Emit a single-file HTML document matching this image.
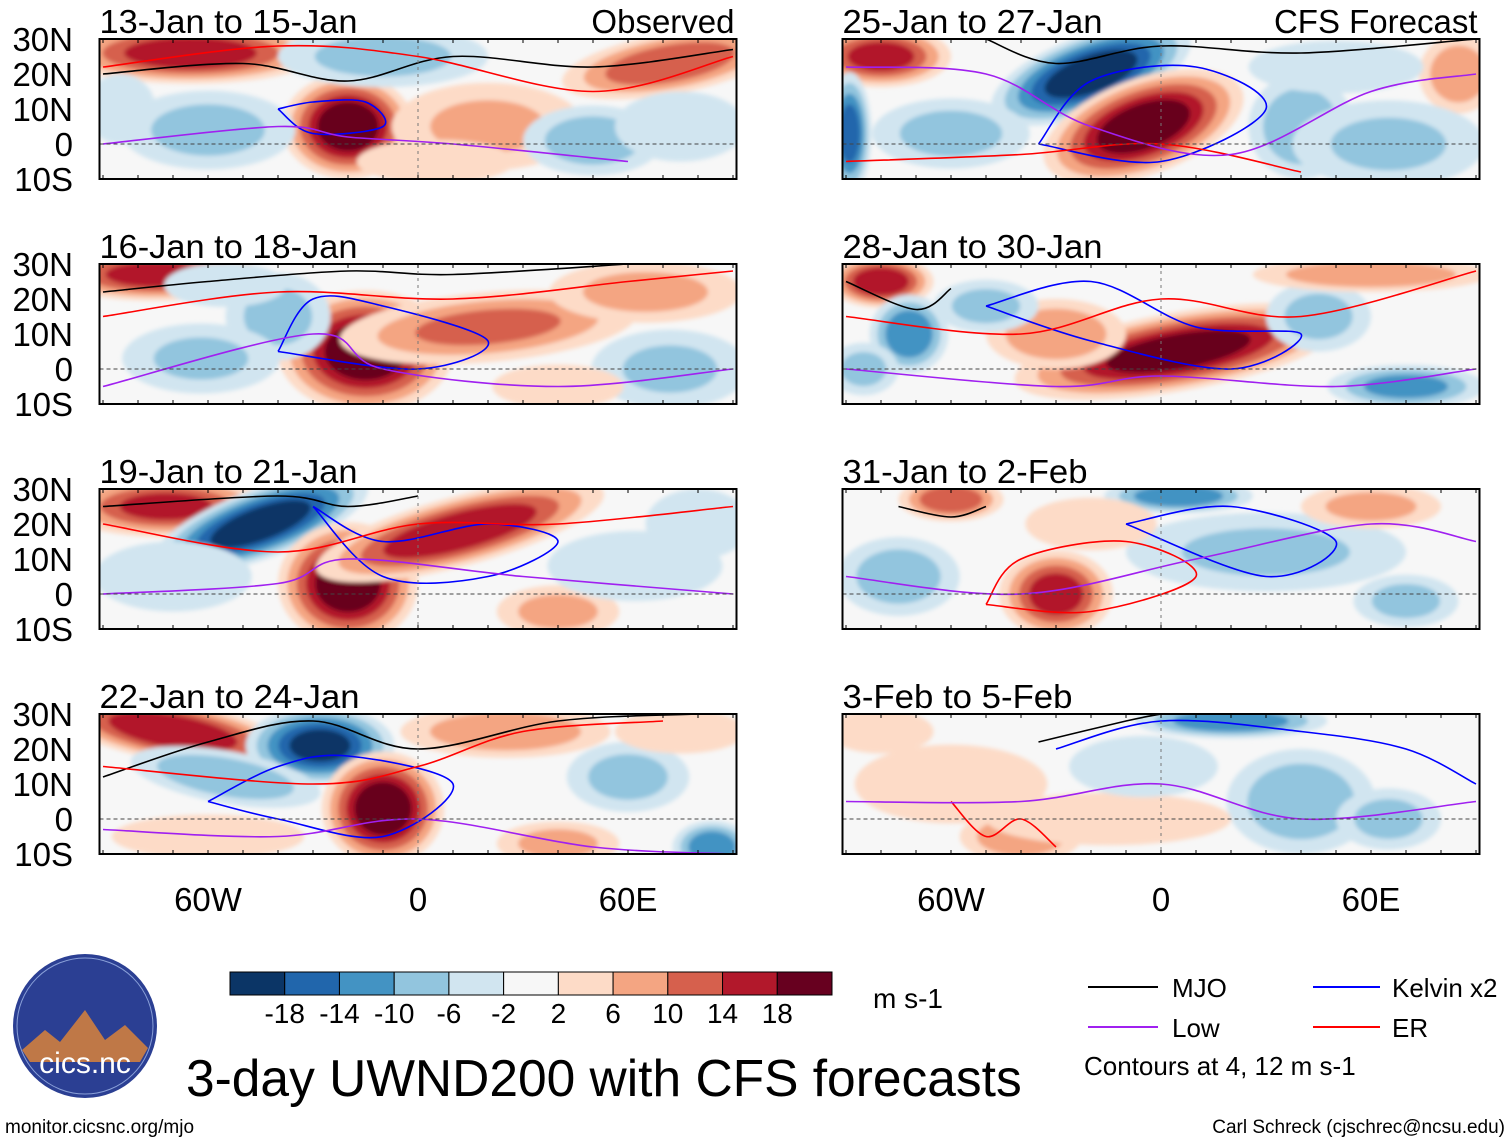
<!DOCTYPE html>
<html><head><meta charset="utf-8"><style>
body{margin:0;background:#fff;font-family:"Liberation Sans",sans-serif;}
svg text{font-family:"Liberation Sans",sans-serif;}
</style></head><body>
<svg id="chart" width="1510" height="1142" viewBox="0 0 1510 1142" xmlns="http://www.w3.org/2000/svg">
<defs><filter id="bl" x="-10%" y="-10%" width="120%" height="120%"><feGaussianBlur stdDeviation="2"/></filter></defs>
<g id="panels"></g>
<g id="cbar"></g>
<text x="873" y="1008" font-size="28">m s-1</text>
<g font-size="26">
<line x1="1088" y1="987" x2="1158" y2="987" stroke="#000" stroke-width="2"/><text x="1172" y="997">MJO</text>
<line x1="1313" y1="987" x2="1380" y2="987" stroke="#00f" stroke-width="2"/><text x="1392" y="997">Kelvin x2</text>
<line x1="1088" y1="1027" x2="1158" y2="1027" stroke="#a020f0" stroke-width="2"/><text x="1172" y="1037">Low</text>
<line x1="1313" y1="1027" x2="1380" y2="1027" stroke="#f00" stroke-width="2"/><text x="1392" y="1037">ER</text>
<text x="1084" y="1075" font-size="26">Contours at 4, 12 m s-1</text>
</g>
<text x="186" y="1096" font-size="51.5">3-day UWND200 with CFS forecasts</text>
<text x="5" y="1133" font-size="19">monitor.cicsnc.org/mjo</text>
<text x="1505" y="1133" font-size="19" text-anchor="end">Carl Schreck (cjschrec@ncsu.edu)</text>
<g>
<circle cx="85" cy="1026" r="72" fill="#2b3f93"/>
<circle cx="85" cy="1026" r="68" fill="none" stroke="#8aa0d8" stroke-width="1"/>
<path d="M22 1050 L45 1030 L60 1042 L85 1010 L105 1040 L125 1025 L148 1048 L140 1062 L30 1062Z" fill="#d9823a" opacity="0.85"/>
<text x="85" y="1073" font-size="30" fill="#fff" text-anchor="middle">cics.nc</text>
</g>
</svg>
<script>
const titles=["13-Jan to 15-Jan","16-Jan to 18-Jan","19-Jan to 21-Jan","22-Jan to 24-Jan","25-Jan to 27-Jan","28-Jan to 30-Jan","31-Jan to 2-Feb","3-Feb to 5-Feb"];
const levels=[-18,-14,-10,-6,-2,2,6,10,14,18];
const colors=["#0b3566","#2166ac","#4393c3","#92c5de","#d1e5f0","#f7f7f7","#fddbc7","#f4a582","#d6604d","#b2182b","#67001f"];
// blobs: [lon, lat, rxDeg, ryDeg, peakValue, rotationDeg]
const blobs1=[[-65,26,30,7,17,0],[-20,5,15,12,21,0],[72,23,25,7,14,10],[-10,25,24,7,-8,0],[-60,4,20,9,-8,0],[20,5,22,10,7,0],[50,1,16,8,-9,0],[5,-5,18,5,5,0],[75,5,15,8,-5,0],[-85,10,8,8,-6,0]];
const blobs2=[[-75,27,24,6,16,0],[-15,5,20,14,21,0],[20,12,34,8,11,5],[65,22,22,7,8,0],[-40,15,12,10,-8,0],[-62,3,18,8,-7,0],[72,0,18,9,-7,0],[-55,24,14,5,-6,0],[40,-5,15,5,4,0]];
const blobs3=[[-72,25,24,7,15,0],[-45,20,26,8,-21,20],[-20,3,16,14,21,0],[12,18,34,8,18,15],[40,-5,14,6,8,0],[-70,5,18,8,-6,0],[62,8,20,8,-5,0],[80,20,12,8,-4,0]];
const blobs4=[[-70,25,28,7,18,-10],[-28,21,17,9,-19,0],[-55,12,22,6,-10,-10],[-10,3,14,13,21,0],[25,25,24,6,10,0],[60,12,14,8,-8,0],[40,-7,14,5,8,0],[84,-8,9,6,-14,0],[-60,-5,22,5,6,0],[75,25,15,5,5,0]];
const blobs5=[[-80,25,16,7,16,0],[-20,20,24,9,-21,20],[-5,5,24,11,21,20],[40,5,12,12,-10,0],[85,20,9,9,10,0],[-89,3,5,14,-16,0],[-60,3,18,8,-8,0],[65,0,22,10,-7,0],[50,22,20,6,-5,0]];
const blobs6=[[-80,25,12,6,18,0],[-72,10,9,9,-14,0],[5,5,38,9,20,10],[-30,10,16,8,10,0],[70,-5,18,5,-12,0],[45,15,12,8,-8,0],[60,27,27,4,10,0],[-50,18,12,6,-8,0],[-85,0,8,6,-8,0]];
const blobs7=[[-60,27,12,5,14,0],[-30,0,13,10,16,0],[-75,5,14,9,-9,0],[30,12,32,9,-7,0],[5,28,17,4,-14,0],[60,25,16,5,8,0],[70,-2,12,6,-8,0],[-20,20,15,6,5,0]];
const blobs8=[[-60,10,22,9,6,0],[20,28,22,4,-14,0],[40,5,17,12,-10,0],[-40,-5,14,6,10,0],[-15,0,28,6,6,0],[-5,15,17,7,-6,0],[65,0,12,7,-8,0],[-80,25,12,5,4,0]];
const allBlobs=[blobs1,blobs2,blobs3,blobs4,blobs5,blobs6,blobs7,blobs8];
// contour lines: [color, points [lon,lat]...]
const lines1=[["#000",[[-90,20],[-50,23],[-20,18],[10,25],[50,22],[90,27]]],["#00f",[[-40,10],[-30,12],[-15,12],[-10,5],[-30,3],[-40,10]]],["#f00",[[-90,22],[-40,28],[0,25],[50,15],[90,25]]],["#a020f0",[[-90,0],[-40,5],[-20,2],[10,0],[60,-5]]]];
const lines2=[["#000",[[-90,22],[-60,25],[-20,28],[10,27],[60,30]]],["#00f",[[-40,5],[-30,20],[-10,18],[20,8],[0,0],[-40,5]]],["#f00",[[-90,15],[-40,22],[10,20],[60,25],[90,28]]],["#a020f0",[[-90,-5],[-30,10],[-10,0],[40,-5],[90,0]]]];
const lines3=[["#000",[[-90,25],[-40,28],[-20,25],[0,28]]],["#00f",[[-30,25],[-10,15],[20,20],[40,15],[20,5],[-10,5],[-30,25]]],["#f00",[[-90,20],[-40,12],[0,20],[40,20],[90,25]]],["#a020f0",[[-90,0],[-40,3],[-20,10],[30,5],[90,0]]]];
const lines4=[["#000",[[-90,12],[-60,22],[-30,28],[0,20],[40,28],[80,30]]],["#00f",[[-60,5],[-40,15],[-20,18],[10,10],[-10,-5],[-40,0],[-60,5]]],["#f00",[[-90,15],[-30,10],[0,15],[30,25],[70,28]]],["#a020f0",[[-90,-3],[-40,-5],[0,0],[50,-8],[90,-10]]]];
const lines5=[["#000",[[-50,30],[-30,23],[0,28],[40,26],[90,30]]],["#00f",[[-35,0],[-20,18],[10,22],[30,10],[0,-5],[-35,0]]],["#f00",[[-90,-5],[-40,-3],[0,0],[40,-8]]],["#a020f0",[[-90,22],[-50,20],[-20,5],[20,-3],[60,15],[90,20]]]];
const lines6=[["#000",[[-90,25],[-70,17],[-60,23]]],["#00f",[[-50,18],[-20,25],[10,12],[40,10],[20,0],[-20,8],[-50,18]]],["#f00",[[-90,15],[-40,10],[0,20],[40,15],[90,28]]],["#a020f0",[[-90,0],[-30,-5],[0,-2],[50,-5],[90,0]]]];
const lines7=[["#000",[[-75,25],[-60,22],[-50,25]]],["#00f",[[-10,20],[20,25],[50,15],[30,5],[-10,20]]],["#f00",[[-50,-3],[-40,10],[-10,15],[10,5],[-20,-5],[-50,-3]]],["#a020f0",[[-90,5],[-40,0],[10,10],[60,20],[90,15]]]];
const lines8=[["#000",[[-35,22],[-10,28],[0,30]]],["#00f",[[-30,20],[0,28],[40,25],[70,20],[90,10]]],["#f00",[[-60,5],[-50,-5],[-40,0],[-30,-8]]],["#a020f0",[[-90,5],[-40,5],[0,10],[40,0],[90,5]]]];
const allLines=[lines1,lines2,lines3,lines4,lines5,lines6,lines7,lines8];
const latTicks=["30N","20N","10N","0","10S"], latVals=[30,20,10,0,-10];
const lonTicks=["60W","0","60E"], lonVals=[-60,0,60];

const NS="http://www.w3.org/2000/svg";
const S=3.5;
function mk(t,a,p){const e=document.createElementNS(NS,t);for(const k in a)e.setAttribute(k,a[k]);p.appendChild(e);return e;}
function colorFor(v){let i=0;while(i<levels.length&&v>levels[i])i++;return colors[i];}
function smooth(pts){
  let d='M'+pts[0][0].toFixed(1)+' '+pts[0][1].toFixed(1);
  for(let i=0;i<pts.length-1;i++){
    const p0=pts[Math.max(0,i-1)],p1=pts[i],p2=pts[i+1],p3=pts[Math.min(pts.length-1,i+2)];
    const c1=[p1[0]+(p2[0]-p0[0])/6,p1[1]+(p2[1]-p0[1])/6],c2=[p2[0]-(p3[0]-p1[0])/6,p2[1]-(p3[1]-p1[1])/6];
    d+=` C${c1[0].toFixed(1)} ${c1[1].toFixed(1)} ${c2[0].toFixed(1)} ${c2[1].toFixed(1)} ${p2[0].toFixed(1)} ${p2[1].toFixed(1)}`;
  }
  return d;
}
const root=document.getElementById('panels');
allBlobs.forEach((blobs,p)=>{
  const col=p<4?0:1,row=p%4;
  const ox=col?743:0, oy=row*225;
  const X=lon=>418+ox+lon*S, Y=lat=>144+oy-lat*S;
  const x0=X(-91),x1=X(91),y0=Y(30),y1=Y(-10);
  const g=mk('g',{},root);
  
  
  const cp=mk('clipPath',{id:'c'+p},g);
  mk('rect',{x:x0,y:y0,width:x1-x0,height:y1-y0},cp);
  const fillG=mk('g',{'clip-path':'url(#c'+p+')'},g);
  mk('rect',{x:x0,y:y0,width:x1-x0,height:y1-y0,fill:'#f7f7f7'},fillG);
  const bg=mk('g',{filter:'url(#bl)'},fillG);
  blobs.forEach(b=>{
    const [lon,lat,rx,ry,v,rot]=b;
    const sgn=Math.sign(v), a=Math.abs(v);
    const th=[2,6,10,14,18].filter(t=>t<a);
    th.forEach(t=>{
      const f=1.25*(1-0.7*(t-2)/a);
      const e=mk('ellipse',{cx:X(lon),cy:Y(lat),rx:rx*S*f,ry:ry*S*f,fill:colorFor(sgn*(t+1)),transform:`rotate(${-rot} ${X(lon)} ${Y(lat)})`},bg);
      
      
    });
  });
  allLines[p].forEach(l=>{
    const pl=mk('path',{d:smooth(l[1].map(q=>[X(q[0]),Y(q[1])])),fill:'none',stroke:l[0],'stroke-width':1.6,'stroke-linejoin':'round'},fillG);
    
    
  });
  mk('line',{x1:x0,x2:x1,y1:Y(0),y2:Y(0),stroke:'#444','stroke-dasharray':'4 3','stroke-width':1},fillG);
  mk('line',{x1:X(0),x2:X(0),y1:y0,y2:y1,stroke:'#777','stroke-dasharray':'3 4','stroke-width':1},fillG);
  mk('rect',{x:x0,y:y0,width:x1-x0,height:y1-y0,fill:'none',stroke:'#000','stroke-width':2},g);
  for(let lon=-90;lon<=90;lon+=10){mk('line',{x1:X(lon),x2:X(lon),y1:y0,y2:y0+4,stroke:'#000'},g);mk('line',{x1:X(lon),x2:X(lon),y1:y1,y2:y1-4,stroke:'#000'},g);}
  const t=mk('text',{x:x0,y:y0-6,'font-size':33,'textLength':258,'lengthAdjust':'spacingAndGlyphs'},g);t.textContent=titles[p];
  const tl=[258,258,258,260,260,260,245,230][p];t.setAttribute('textLength',tl);
  
  
  if(col===0){latTicks.forEach((s,i)=>{const tt=mk('text',{x:73,y:Y(latVals[i])+12,'font-size':33,'text-anchor':'end'},g);tt.textContent=s;
    
    });}
  if(row===0){const o=mk('text',{x:x1-2,y:y0-6,'font-size':33,'text-anchor':'end'},g);o.textContent=col?'CFS Forecast':'Observed';
    
    }
  if(row===3){lonTicks.forEach((s,i)=>{const tt=mk('text',{x:X(lonVals[i]),y:911,'font-size':33,'text-anchor':'middle'},g);tt.textContent=s;
    
    });}
});
const cb=document.getElementById('cbar');
const cbx=230,cbw=602/11;
colors.forEach((c,i)=>{const r=mk('rect',{x:cbx+i*cbw,y:972,width:cbw,height:23,fill:c,stroke:'#000','stroke-width':1},cb);
  
  });
levels.forEach((v,i)=>{const t=mk('text',{x:cbx+(i+1)*cbw,y:1023,'font-size':28,'text-anchor':'middle'},cb);t.textContent=v;
  
  });
</script>
</body></html>
